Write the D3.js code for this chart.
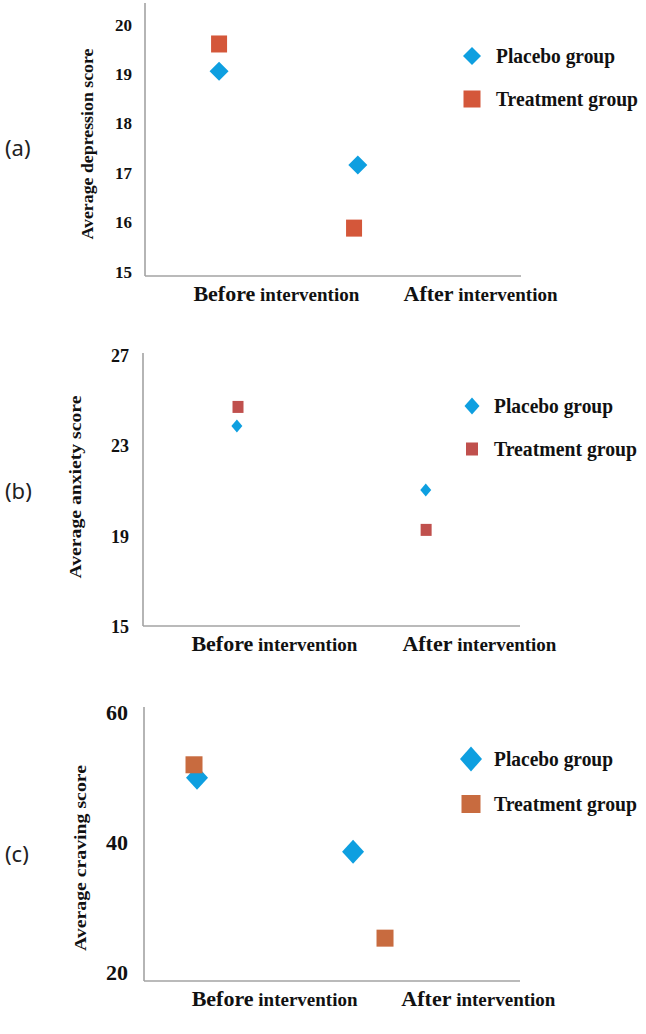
<!DOCTYPE html>
<html>
<head>
<meta charset="utf-8">
<script src="https://cdn.jsdelivr.net/npm/d3@7"></script>
<style>
  html, body { margin: 0; padding: 0; background: #ffffff; }
  svg { display: block; }
</style>
</head>
<body>
<div id="chart"></div>
<script>
// ---------------- DATA ----------------
const categories = ["Before intervention", "After intervention"];
const seriesNames = ["Placebo group", "Treatment group"];
const panelTags = ["(a)", "(b)", "(c)"];
const yTitles = ["Average depression score", "Average anxiety score", "Average craving score"];

const depressionPlacebo   = [19.05, 17.15];
const depressionTreatment = [19.6, 15.87];
const anxietyPlacebo      = [23.87, 21.03];
const anxietyTreatment    = [24.71, 19.26];
const cravingPlacebo      = [49.9, 38.5];
const cravingTreatment    = [51.9, 25.2];

const depressionTicks = [15, 16, 17, 18, 19, 20];
const anxietyTicks    = [15, 19, 23, 27];
const cravingTicks    = [20, 40, 60];

// ---------------- LAYOUT / STYLE ----------------
const W = 646, H = 1034;
const serif = "'Liberation Serif', 'Times New Roman', serif";
const blue = "#0E9FE0";

const layouts = [
  { domain: [14.9, 20.43], top: 3, bottom: 276, left: 145, right: 521,
    tickPad: 13, tickFont: 17, titleX: 87, titleY: 144, titleLen: 191, titleFont: 17.5,
    tagY: 147, legX: 472, legY: [56, 99], legTextX: 496, legLen: [119, 142],
    legDia: [9, 9], legSq: [8.5, 8.5],
    dia: [9.5, 9.5], sq: [8, 8.5], sqColor: "#D4573A",
    xFrac: [[0.197, 0.566], [0.197, 0.556]], labelFrac: [0.348, 0.891] },
  { domain: [15, 27.1], top: 353, bottom: 626, left: 143, right: 520,
    tickPad: 14, tickFont: 18, titleX: 75, titleY: 487, titleLen: 183, titleFont: 17.5,
    tagY: 490, legX: 472, legY: [406, 449], legTextX: 494, legLen: [119, 143],
    legDia: [7.5, 8.5], legSq: [6, 6.5],
    dia: [5.5, 6.5], sq: [5.5, 6], sqColor: "#C0504D",
    xFrac: [[0.249, 0.75], [0.252, 0.751]], labelFrac: [0.347, 0.891] },
  { domain: [18.6, 60.8], top: 707, bottom: 981, left: 144, right: 520,
    tickPad: 16, tickFont: 22, titleX: 80, titleY: 858, titleLen: 186, titleFont: 17.5,
    tagY: 853, legX: 471, legY: [759, 804], legTextX: 494, legLen: [119, 143],
    legDia: [11, 12.5], legSq: [9.5, 9],
    dia: [11, 12], sq: [8.5, 8.5], sqColor: "#C86B3F",
    xFrac: [[0.141, 0.556], [0.133, 0.641]], labelFrac: [0.346, 0.888] }
];

const panelData = [
  { ticks: depressionTicks, series: [depressionPlacebo, depressionTreatment] },
  { ticks: anxietyTicks,    series: [anxietyPlacebo, anxietyTreatment] },
  { ticks: cravingTicks,    series: [cravingPlacebo, cravingTreatment] }
];

// ---------------- DRAW ----------------
const svg = d3.select("#chart").append("svg")
  .attr("width", W).attr("height", H)
  .attr("viewBox", `0 0 ${W} ${H}`);

svg.append("rect").attr("width", W).attr("height", H).attr("fill", "#fff");

function diamondPath(cx, cy, hw, hh) {
  return `M${cx},${cy - hh}L${cx + hw},${cy}L${cx},${cy + hh}L${cx - hw},${cy}Z`;
}

panelData.forEach((pd, i) => {
  const L = layouts[i];
  const g = svg.append("g");

  const y = d3.scaleLinear().domain(L.domain).range([L.bottom, L.top]);
  const xf = d3.scaleLinear().domain([0, 1]).range([L.left, L.right]);
  const xCat = d3.scalePoint().domain(categories)
    .range([xf(L.labelFrac[0]), xf(L.labelFrac[1])]);

  // axis lines
  g.append("line")
    .attr("x1", L.left).attr("x2", L.left)
    .attr("y1", y.range()[1]).attr("y2", y.range()[0])
    .attr("stroke", "#A3A3A3").attr("stroke-width", 1.6);
  g.append("line")
    .attr("x1", L.left).attr("x2", L.right)
    .attr("y1", L.bottom).attr("y2", L.bottom)
    .attr("stroke", "#A3A3A3").attr("stroke-width", 1.6);

  // y axis tick labels
  const yAxis = g.append("g")
    .attr("transform", `translate(${L.left},0)`)
    .call(d3.axisLeft(y).tickValues(pd.ticks).tickSize(0).tickPadding(L.tickPad).tickFormat(d3.format("d")));
  yAxis.select(".domain").remove();
  yAxis.selectAll("text")
    .attr("font-family", serif).attr("font-weight", "bold")
    .attr("font-size", L.tickFont).attr("fill", "#111").attr("dy", "0.35em");

  // x axis category labels
  const xAxis = g.append("g")
    .attr("transform", `translate(0,${L.bottom})`)
    .call(d3.axisBottom(xCat).tickSize(0));
  xAxis.select(".domain").remove();
  xAxis.selectAll("text").each(function(d) {
    const t = d3.select(this);
    t.text(null)
      .attr("y", 21).attr("dy", "0.35em")
      .attr("font-family", serif).attr("font-weight", "bold").attr("fill", "#111");
    const parts = d.split(" ");
    t.append("tspan").attr("font-size", 22).text(parts[0]);
    t.append("tspan").attr("font-size", 19).text(" " + parts.slice(1).join(" "));
  });

  // y title
  g.append("text")
    .attr("transform", `translate(${L.titleX},${L.titleY}) rotate(-90)`)
    .attr("text-anchor", "middle").attr("dominant-baseline", "central")
    .attr("font-family", serif).attr("font-weight", "bold")
    .attr("font-size", L.titleFont).attr("fill", "#111")
    .attr("textLength", L.titleLen).attr("lengthAdjust", "spacingAndGlyphs")
    .text(yTitles[i]);

  // panel tag
  g.append("text")
    .attr("x", 5).attr("y", L.tagY)
    .attr("dominant-baseline", "central")
    .attr("font-family", "'Noto Sans', 'Open Sans', sans-serif")
    .attr("font-size", 22).attr("fill", "#222")
    .text(panelTags[i]);

  // markers: placebo (diamond) first, treatment (square) on top
  const placebo = pd.series[0].map((v, k) => ({ v, k }));
  const treatment = pd.series[1].map((v, k) => ({ v, k }));

  g.append("g").selectAll("path").data(placebo).join("path")
    .attr("d", d => diamondPath(xf(L.xFrac[0][d.k]), y(d.v), L.dia[0], L.dia[1]))
    .attr("fill", blue);

  g.append("g").selectAll("rect").data(treatment).join("rect")
    .attr("x", d => xf(L.xFrac[1][d.k]) - L.sq[0])
    .attr("y", d => y(d.v) - L.sq[1])
    .attr("width", L.sq[0] * 2).attr("height", L.sq[1] * 2)
    .attr("fill", L.sqColor);

  // legend
  const leg = g.append("g");
  leg.append("path")
    .attr("d", diamondPath(L.legX, L.legY[0], L.legDia[0], L.legDia[1]))
    .attr("fill", blue);
  leg.append("rect")
    .attr("x", L.legX - L.legSq[0]).attr("y", L.legY[1] - L.legSq[1])
    .attr("width", L.legSq[0] * 2).attr("height", L.legSq[1] * 2)
    .attr("fill", L.sqColor);
  leg.selectAll("text").data(seriesNames).join("text")
    .attr("x", L.legTextX)
    .attr("y", (d, k) => L.legY[k])
    .attr("dy", "0.35em")
    .attr("font-family", serif).attr("font-weight", "bold")
    .attr("font-size", 20).attr("fill", "#111")
    .attr("textLength", (d, k) => L.legLen[k]).attr("lengthAdjust", "spacingAndGlyphs")
    .text(d => d);
});
</script>
</body>
</html>
